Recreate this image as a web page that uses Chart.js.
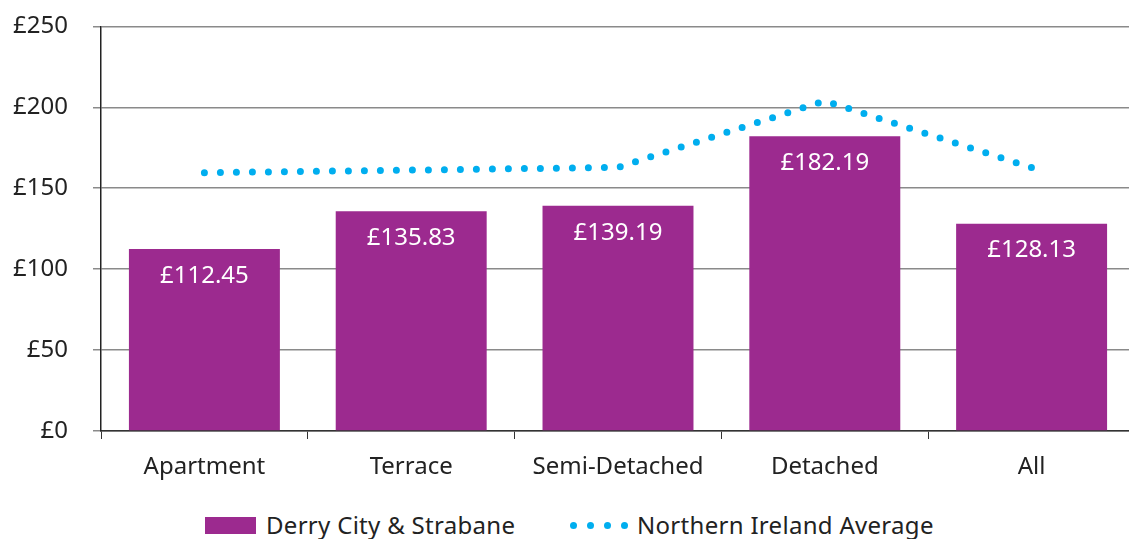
<!DOCTYPE html>
<html>
<head>
<meta charset="utf-8">
<script src="https://cdn.jsdelivr.net/npm/chart.js@4/dist/chart.umd.min.js"></script>
<style>
    html, body { margin: 0; padding: 0; background: #fff; overflow: hidden; }
    #wrap { position: relative; width: 1135px; height: 539px; }
    #chartBox { position: absolute; left: 0; top: -13px; width: 1135px; height: 513px; }
    .legend { position: absolute; top: 508px; left: 0; font-family: "Noto Sans", Lato, sans-serif; font-size: 24px; color: #222; }
    .legend .item { position: absolute; white-space: nowrap; line-height: 34px; letter-spacing: 0.3px; }
    .swatch { position: absolute; width: 51px; height: 17px; background: #9c2a8f; }
    .dot { position: absolute; width: 7px; height: 7px; border-radius: 50%; background: #00aeef; }
</style>
</head>
<body>
<div id="wrap">
    <div id="chartBox"><canvas id="rentChart"></canvas></div>
    <div class="legend">
        <div class="swatch" style="left:205px; top:9px;"></div>
        <div class="item" style="left:266px; top:0;">Derry City &amp; Strabane</div>
        <div class="dot" style="left:570px; top:14px;"></div>
        <div class="dot" style="left:587px; top:14px;"></div>
        <div class="dot" style="left:604px; top:14px;"></div>
        <div class="dot" style="left:621px; top:14px;"></div>
        <div class="item" style="left:637px; top:0;">Northern Ireland Average</div>
    </div>
</div>
<script>
const categories = ['Apartment', 'Terrace', 'Semi-Detached', 'Detached', 'All'];
const derryValues = [112.45, 135.83, 139.19, 182.19, 128.13];
const niAverage = [159.6, 161.2, 162.9, 204, 162.7];
const yTicks = [0, 50, 100, 150, 200, 250];

const barColor = '#9c2a8f';
const dotColor = '#00aeef';
const fontFamily = '"Noto Sans", Lato, sans-serif';

// white value labels inside the top of each bar
const barLabels = {
    id: 'barLabels',
    afterDatasetsDraw(chart) {
        const { ctx } = chart;
        const meta = chart.getDatasetMeta(1);
        ctx.save();
        ctx.font = '24px ' + fontFamily;
        ctx.fillStyle = '#ffffff';
        ctx.textAlign = 'center';
        ctx.textBaseline = 'middle';
        meta.data.forEach((bar, i) => {
            ctx.fillText('£' + derryValues[i].toFixed(2), bar.x, bar.y + 27);
        });
        ctx.restore();
    }
};

const ctx = document.getElementById('rentChart').getContext('2d');
new Chart(ctx, {
    type: 'bar',
    data: {
        labels: categories,
        datasets: [{
            type: 'line',
            label: 'Northern Ireland Average',
            data: niAverage,
            borderColor: dotColor,
            borderWidth: 7,
            borderDash: [0, 16],
            borderCapStyle: 'round',
            tension: 0,
            pointRadius: 0,
            fill: false,
            order: 0
        }, {
            label: 'Derry City & Strabane',
            data: derryValues,
            backgroundColor: barColor,
            barPercentage: 0.73,
            categoryPercentage: 1,
            order: 1
        }]
    },
    options: {
        responsive: true,
        maintainAspectRatio: false,
        animation: false,
        layout: { padding: { top: 14, right: 0, left: 0, bottom: 0 } },
        plugins: {
            legend: { display: false },
            tooltip: { enabled: false }
        },
        scales: {
            x: {
                grid: {
                    offset: true,
                    drawOnChartArea: false,
                    drawTicks: true,
                    tickLength: 8,
                    color: '#333'
                },
                border: { color: '#333', width: 1.5 },
                ticks: {
                    color: '#222',
                    padding: 14,
                    font: { family: fontFamily, size: 24 }
                },
                afterFit(scale) { scale.height = 69; }
            },
            y: {
                min: 0,
                max: 250,
                afterBuildTicks(scale) { scale.ticks = yTicks.map(v => ({ value: v })); },
                grid: {
                    color: '#8a8a8a',
                    lineWidth: 1.5,
                    tickLength: 8
                },
                border: { color: '#222', width: 1.5 },
                ticks: {
                    color: '#222',
                    padding: 25,
                    font: { family: fontFamily, size: 24 },
                    callback: v => '£' + v
                },
                afterFit(scale) { scale.width = 101; }
            }
        }
    },
    plugins: [barLabels]
});
</script>
</body>
</html>
